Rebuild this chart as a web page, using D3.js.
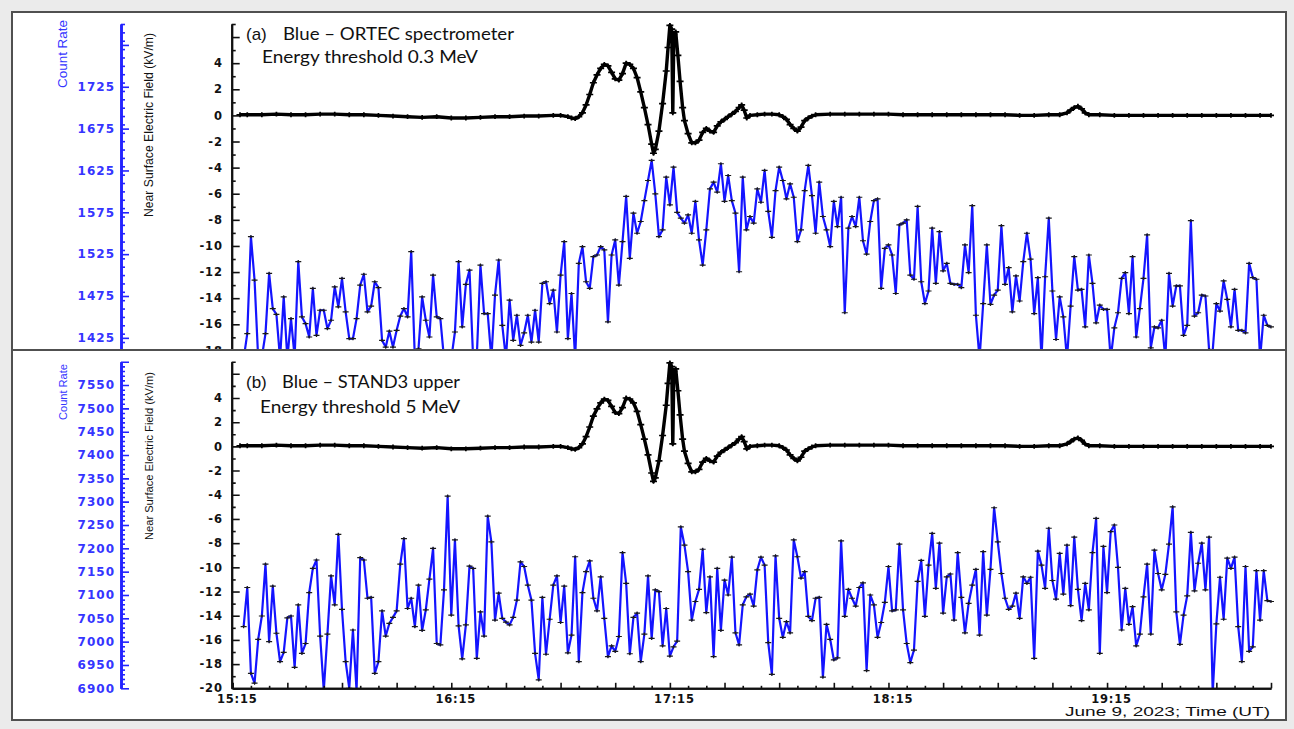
<!DOCTYPE html>
<html>
<head>
<meta charset="utf-8">
<script src="https://cdn.jsdelivr.net/npm/d3@7"></script>
<style>
  html, body { margin: 0; padding: 0; background: #ebebeb; }
  svg { display: block; }
</style>
</head>
<body>
<svg id="chart" width="1294" height="729"></svg>
<script>
// ---------------- data ----------------
// Near-surface electric field (kV/m); time in minutes after 15:15 UT
const fieldMinutes = [
  2, 4, 8, 12, 16, 20, 24, 28, 32, 36, 40, 44, 48, 52, 56, 60, 64, 68, 72, 76, 80, 84, 88, 90,
  92, 93, 94, 95, 96, 97, 98, 99, 100, 101, 102, 103, 104, 105, 106, 107, 108, 109, 110, 111,
  112, 113, 114, 115, 115.5, 116, 117, 118, 119, 119.5, 120, 120.5, 120.8, 121.1, 121.6, 122.2,
  122.8, 123.5, 124, 125, 126, 127, 128, 129, 130, 131, 132, 133, 134, 135, 136, 137, 138, 139,
  139.7, 140.4, 141.1, 142, 144, 146, 148, 150, 151, 152, 153, 154, 155, 156, 157, 158, 159, 160,
  164, 168, 172, 176, 180, 184, 188, 192, 196, 200, 204, 208, 212, 216, 220, 224, 227, 229, 230,
  231, 232, 233, 234, 235, 238, 242, 246, 250, 254, 258, 262, 266, 270, 274, 278, 282, 285
];
const fieldKV = [
  0.05, 0.05, 0.05, 0.1, 0.05, 0.05, 0.1, 0.1, 0.05, 0.05, 0.0, -0.05, -0.1, -0.15, -0.1, -0.2, -0.2, -0.15, -0.1, -0.1, -0.05, -0.05, 0.0, 0.0,
  -0.1, -0.2, -0.25, -0.1, 0.2, 0.8, 1.6, 2.5, 3.1, 3.6, 3.9, 3.8, 3.3, 2.8, 2.7, 3.2, 4.0, 3.9, 3.6, 2.9,
  1.8, 0.6, -0.7, -2.2, -2.9, -2.6, -1.2, 0.9, 3.4, 5.2, 6.9, 6.6, 0.2, 6.2, 6.4, 4.6,
  2.6, 0.6, -0.4, -1.4, -2.1, -2.1, -1.9, -1.3, -1.0, -1.2, -1.3, -0.8, -0.5, -0.3, -0.1, 0.1, 0.3, 0.6,
  0.8, 0.4, -0.2, 0.0, 0.05, 0.1, 0.1, 0.05, -0.1, -0.3, -0.7, -1.0, -1.2, -0.9, -0.4, -0.2, -0.05, 0.05,
  0.1, 0.1, 0.1, 0.1, 0.1, 0.05, 0.05, 0.05, 0.05, 0.05, 0.05, 0.05, 0.05, 0.0, 0.0, 0.05, 0.05, 0.2, 0.4,
  0.6, 0.7, 0.5, 0.2, 0.05, 0.05, 0.0, 0.0, 0.0, 0.0, 0.0, 0.0, 0.0, 0.0, 0.0, 0.0, 0.0, 0.0
];

// Count rates, one sample per minute from 15:18 to 20:00 UT
const countMinutes = d3.range(3, 286);
const countORTEC = [
  1400, 1430, 1546, 1494, 1400, 1402, 1430,                        // 15:18
  1502, 1460, 1453, 1400, 1474, 1400, 1448, 1402, 1516, 1450,      // 15:25
  1442, 1426, 1484, 1428, 1458, 1458, 1436, 1446, 1486, 1462,
  1496, 1456, 1424, 1424, 1448, 1488, 1501, 1456, 1463, 1492,
  1485, 1422, 1414, 1433, 1414, 1434, 1451, 1460, 1450, 1528,
  1400, 1412, 1474, 1446, 1426, 1500, 1450, 1448, 1400, 1403,      // 16:05
  1400, 1432, 1516, 1438, 1489, 1506, 1400, 1402, 1512, 1454,
  1454, 1400, 1476, 1518, 1440, 1400, 1470, 1422, 1452, 1416,
  1431, 1452, 1420, 1458, 1420, 1490, 1492, 1466, 1482, 1432,
  1500, 1540, 1424, 1478, 1400, 1514, 1534, 1492, 1484, 1522,
  1524, 1534, 1530, 1444, 1524, 1542, 1488, 1540, 1594, 1520,      // 16:55
  1574, 1550, 1564, 1589, 1613, 1637, 1597, 1546, 1554, 1617,
  1584, 1629, 1575, 1568, 1562, 1572, 1550, 1588, 1542, 1512,
  1554, 1603, 1611, 1599, 1633, 1588, 1619, 1589, 1574, 1504,
  1617, 1554, 1570, 1562, 1603, 1587, 1625, 1576, 1545, 1601,
  1629, 1613, 1591, 1609, 1593, 1540, 1554, 1601, 1631, 1595,      // 17:45
  1550, 1611, 1570, 1554, 1534, 1588, 1558, 1593, 1455, 1556,
  1570, 1558, 1593, 1541, 1525, 1564, 1589, 1591, 1484, 1532,
  1536, 1524, 1478, 1560, 1562, 1566, 1500, 1495, 1582, 1492,
  1466, 1481, 1556, 1490, 1552, 1505, 1514, 1490, 1489, 1489,
  1485, 1536, 1503, 1583, 1452, 1400, 1466, 1536, 1465, 1476,      // 18:35
  1482, 1559, 1489, 1509, 1456, 1499, 1469, 1516, 1550, 1519,
  1454, 1497, 1400, 1498, 1568, 1481, 1423, 1474, 1450, 1400,
  1463, 1522, 1482, 1483, 1438, 1524, 1490, 1443, 1464, 1459,
  1459, 1400, 1437, 1455, 1496, 1503, 1454, 1522, 1426, 1460,
  1496, 1548, 1413, 1438, 1437, 1446, 1400, 1502, 1463, 1487,      // 19:25
  1487, 1428, 1440, 1565, 1451, 1455, 1476, 1475, 1411, 1410,
  1466, 1457, 1493, 1471, 1438, 1483, 1434, 1434, 1431, 1514,
  1497, 1495, 1400, 1452, 1440, 1438                               // 19:55
];
const countSTAND3 = [
  7032, 7116, 6932, 6911, 7005, 7055, 7166,                        // 15:18
  7000, 7119, 7018, 6957, 6977, 7051, 7055, 6945, 7079, 6975,      // 15:25
  6996, 7105, 7157, 7175, 7012, 6895, 7016, 7141, 7079, 7230,
  7069, 6957, 6900, 7025, 6895, 7180, 7175, 7093, 7095, 6932,
  6957, 7066, 7012, 7039, 7052, 7066, 7166, 7221, 7071, 7093,
  7032, 7121, 7024, 7068, 7134, 7200, 6996, 6993, 7111, 7312,      // 16:05
  7057, 7218, 7034, 6963, 7036, 7162, 7157, 6964, 7064, 7012,
  7269, 7214, 7046, 7104, 7050, 7042, 7036, 7052, 7089, 7171,
  7161, 7121, 7089, 6975, 6918, 7095, 6973, 7048, 7121, 7141,
  7041, 7119, 6976, 7014, 7182, 6957, 7105, 7150, 7173, 7093,
  7066, 7139, 7050, 6968, 6991, 6979, 7011, 7191, 7125, 6974,      // 16:55
  7052, 7061, 6957, 7016, 7141, 7007, 7111, 7107, 6991, 7071,
  6969, 6989, 7001, 7246, 7207, 7150, 7046, 7086, 7112, 7198,
  7062, 7139, 6968, 7157, 7024, 7132, 7100, 7181, 7019, 6993,
  7079, 7096, 7102, 7076, 7154, 7181, 7164, 6998, 6930, 7184,
  7050, 7009, 7043, 7019, 7218, 7182, 7136, 7150, 7054, 7045,      // 17:45
  7093, 7095, 6924, 7037, 7005, 6961, 6965, 7216, 7054, 7112,
  7093, 7076, 7116, 7126, 6938, 7100, 7079, 7009, 7041, 7084,
  7161, 7066, 7068, 7209, 7068, 6996, 6955, 6982, 7129, 7174,
  7054, 7164, 7232, 7114, 7211, 7061, 7139, 7145, 7046, 7191,
  7095, 7019, 7082, 7121, 7155, 7014, 7193, 7057, 7155, 7287,      // 18:35
  7214, 7146, 7093, 7069, 7076, 7104, 7050, 7139, 7125, 7138,
  6964, 7194, 7164, 7114, 7243, 7131, 7091, 7189, 7102, 7207,
  7077, 7224, 7112, 7045, 7125, 7068, 7191, 7264, 6975, 7204,
  7105, 7236, 7250, 7159, 7025, 7114, 7037, 7075, 6991, 7016,
  7096, 7166, 7016, 7196, 7146, 7111, 7144, 7209, 7289, 7064,      // 19:25
  6994, 7057, 7098, 7234, 7109, 7168, 7211, 7111, 7224, 6890,
  7038, 7138, 7048, 7179, 7157, 7181, 7032, 6957, 7161, 6979,
  6989, 7152, 7046, 7152, 7088, 7086                               // 19:55
];

// Axis extents and label text
const timeStart = Date.UTC(2023, 5, 9, 15, 15);
const timeEnd = Date.UTC(2023, 5, 9, 20, 0);
const hourLabels = ["15:15", "16:15", "17:15", "18:15", "19:15"];
const fieldDomainA = [-18, 7];
const fieldDomainB = [-20, 7];
const countDomainA = [1410, 1800];
const countDomainB = [6900, 7600];
const countLabelsA = [1425, 1475, 1525, 1575, 1625, 1675, 1725];
const countLabelsB = [6900, 6950, 7000, 7050, 7100, 7150, 7200, 7250, 7300, 7350, 7400, 7450, 7500, 7550];
const panels = [
  { tag: "(a)", title: "Blue \u2013 ORTEC spectrometer", sub: "Energy threshold 0.3 MeV",
    counts: countORTEC, fieldDomain: fieldDomainA, countDomain: countDomainA, countLabels: countLabelsA },
  { tag: "(b)", title: "Blue \u2013 STAND3 upper", sub: "Energy threshold 5 MeV",
    counts: countSTAND3, fieldDomain: fieldDomainB, countDomain: countDomainB, countLabels: countLabelsB }
];

// ---------------- layout ----------------
const svg = d3.select("#chart");
const frame = { x0: 12, y0: 12, x1: 1286, y1: 720, split: 350 };
const plotX0 = 232.7, plotX1 = 1271;
const countAxisX = 121;
const panelBoxes = [
  { top: 24, bottom: 350.4, clipTop: 14, clipBottom: 349, axisClipBottom: 349 },
  { top: 361.7, bottom: 688.3, clipTop: 351.5, clipBottom: 689, axisClipBottom: 706 }
];
const panelText = [
  { tagY: 40, subY: 63, titleX: 283, subX: 262, titleW: 231, subW: 216,
    countTitleY: 54, countTitleLen: 68, countTitleSize: 13.4,
    fieldTitleY: 125, fieldTitleLen: 184, fieldTitleSize: 12.2 },
  { tagY: 388, subY: 413, titleX: 282, subX: 260, titleW: 178, subW: 200,
    countTitleY: 392, countTitleLen: 56, countTitleSize: 11.1,
    fieldTitleY: 456, fieldTitleLen: 168, fieldTitleSize: 11.1 }
];

const BLUE = "#1414ff";
const AXIS_BLUE = "#2323ff";
const LABEL_BLUE = "#3535ff";
const tickFont = "'DejaVu Sans', sans-serif";

svg.append("rect")
  .attr("x", frame.x0).attr("y", frame.y0)
  .attr("width", frame.x1 - frame.x0).attr("height", frame.y1 - frame.y0)
  .attr("fill", "#ffffff").attr("stroke", "#505050").attr("stroke-width", 2);

const x = d3.scaleUtc().domain([new Date(timeStart), new Date(timeEnd)]).range([plotX0, plotX1]);
const at = m => new Date(timeStart + m * 60000);

const fieldPoints = fieldMinutes.map((m, i) => ({ t: at(m), v: fieldKV[i] }));
const crossPath = "M-3,0H3M0,-1.6V1.6";

function styleAxis(g, color, width) {
  g.select(".domain").attr("stroke", color).attr("stroke-width", width);
  g.selectAll(".tick line").attr("stroke", color).attr("stroke-width", 1.6);
  g.attr("font-family", null).attr("font-size", null);
}

panels.forEach((p, i) => {
  const box = panelBoxes[i];
  const txt = panelText[i];
  const yField = d3.scaleLinear().domain(p.fieldDomain).range([box.bottom, box.top]);
  const yCount = d3.scaleLinear().domain(p.countDomain).range([box.bottom, box.top]);

  const clipId = "clip" + i;
  svg.append("clipPath").attr("id", clipId)
    .append("rect").attr("x", 0).attr("y", box.clipTop)
    .attr("width", 1294).attr("height", box.axisClipBottom - box.clipTop);
  const plotClipId = "plotclip" + i;
  svg.append("clipPath").attr("id", plotClipId)
    .append("rect").attr("x", plotX0).attr("y", box.clipTop)
    .attr("width", plotX1 - plotX0 + 3).attr("height", box.clipBottom - box.clipTop);

  const g = svg.append("g").attr("clip-path", `url(#${clipId})`);

  // --- count rate axis (blue, outer left) ---
  const [c0, c1] = p.countDomain;
  const countMinor = d3.range(c0, c1 + 1, 10).filter(v => (v - 1425) % 10 === 0 || (v - 6900) % 10 === 0);
  const countMajor = d3.range(p.countLabels[0], c1 + 1, 50);
  g.append("g").attr("transform", `translate(${countAxisX},0)`)
    .call(d3.axisLeft(yCount).tickValues(countMinor.filter(v => !countMajor.includes(v)))
      .tickSize(-4).tickSizeOuter(0).tickFormat(""))
    .call(a => styleAxis(a, AXIS_BLUE, 2.6));
  g.append("g").attr("transform", `translate(${countAxisX},0)`)
    .call(d3.axisLeft(yCount).tickValues(countMajor).tickSize(-8).tickSizeOuter(0).tickPadding(6)
      .tickFormat(v => p.countLabels.includes(v) ? String(v) : ""))
    .call(a => styleAxis(a, AXIS_BLUE, 2.6))
    .call(a => a.selectAll("text")
      .attr("fill", LABEL_BLUE).attr("font-family", tickFont).attr("font-weight", "bold")
      .attr("font-size", 12).attr("letter-spacing", 1));

  // --- electric field axis (black, inner left) ---
  const [f0, f1] = p.fieldDomain;
  const fieldAll = d3.range(f0, f1 + 1, 1);
  g.append("g").attr("transform", `translate(${plotX0 - 1},0)`)
    .call(d3.axisLeft(yField).tickValues(fieldAll.filter(v => v % 2 !== 0))
      .tickSize(-4).tickSizeOuter(0).tickFormat(""))
    .call(a => styleAxis(a, "#111", 2));
  g.append("g").attr("transform", `translate(${plotX0 - 1},0)`)
    .call(d3.axisLeft(yField).tickValues(fieldAll.filter(v => v % 2 === 0))
      .tickSize(-8).tickSizeOuter(0).tickPadding(9)
      .tickFormat(v => v <= 4 ? String(v) : ""))
    .call(a => styleAxis(a, "#111", 2))
    .call(a => a.selectAll("text")
      .attr("fill", "#111").attr("font-family", tickFont).attr("font-weight", "bold")
      .attr("font-size", 11.5).attr("letter-spacing", 0.8));

  // --- axis titles ---
  g.append("text")
    .attr("transform", `translate(67,${txt.countTitleY}) rotate(-90)`)
    .attr("text-anchor", "middle")
    .attr("font-family", "'Liberation Sans', Arial, sans-serif").attr("font-size", txt.countTitleSize)
    .attr("fill", LABEL_BLUE)
    .attr("textLength", txt.countTitleLen).attr("lengthAdjust", "spacingAndGlyphs")
    .text("Count Rate");
  g.append("text")
    .attr("transform", `translate(152.5,${txt.fieldTitleY}) rotate(-90)`)
    .attr("text-anchor", "middle")
    .attr("font-family", "'Liberation Sans', Arial, sans-serif").attr("font-size", txt.fieldTitleSize)
    .attr("fill", "#111")
    .attr("textLength", txt.fieldTitleLen).attr("lengthAdjust", "spacingAndGlyphs")
    .text("Near Surface Electric Field (kV/m)");

  // --- series ---
  const plot = svg.append("g").attr("clip-path", `url(#${plotClipId})`);

  const fieldLine = d3.line().x(d => x(d.t)).y(d => yField(d.v)).curve(d3.curveLinear);
  plot.append("path").datum(fieldPoints)
    .attr("d", fieldLine).attr("fill", "none")
    .attr("stroke", "#000").attr("stroke-width", 3.4).attr("stroke-linejoin", "round");
  plot.append("g").selectAll("path").data(fieldPoints).join("path")
    .attr("transform", d => `translate(${x(d.t)},${yField(d.v)})`)
    .attr("d", "M-3.5,0H3.5M0,-2.4V2.4").attr("stroke", "#000").attr("stroke-width", 1.7);

  const countPoints = countMinutes.map((m, k) => ({ t: at(m), v: p.counts[k] }));
  const countLine = d3.line().x(d => x(d.t)).y(d => yCount(d.v));
  plot.append("path").datum(countPoints)
    .attr("d", countLine).attr("fill", "none")
    .attr("stroke", BLUE).attr("stroke-width", 2.2).attr("stroke-linejoin", "round");
  plot.append("g").selectAll("path").data(countPoints).join("path")
    .attr("transform", d => `translate(${x(d.t)},${yCount(d.v)})`)
    .attr("d", crossPath).attr("stroke", "#1a1a1a").attr("stroke-width", 1.2);

  // --- panel annotation ---
  const note = svg.append("g").attr("fill", "#111");
  note.append("text").attr("x", 246).attr("y", txt.tagY)
    .attr("font-family", "'Liberation Sans', Arial, sans-serif").attr("font-size", 17)
    .text(p.tag);
  note.append("text").attr("x", txt.titleX).attr("y", txt.tagY)
    .attr("font-family", "Lato, 'Open Sans', sans-serif").attr("font-size", 17.5)
    .attr("textLength", txt.titleW).attr("lengthAdjust", "spacingAndGlyphs")
    .text(p.title);
  note.append("text").attr("x", txt.subX).attr("y", txt.subY)
    .attr("font-family", "Lato, 'Open Sans', sans-serif").attr("font-size", 17.5)
    .attr("textLength", txt.subW).attr("lengthAdjust", "spacingAndGlyphs")
    .text(p.sub);
});

// --- time axis under the lower panel ---
const xAxisY = panelBoxes[1].bottom;
const minorTimes = x.ticks(d3.utcMinute.every(5)).filter(d => d.getUTCMinutes() % 15 !== 0);
const majorTimes = x.ticks(d3.utcMinute.every(15));
svg.append("g").attr("transform", `translate(0,${xAxisY})`)
  .call(d3.axisBottom(x).tickValues(minorTimes).tickSize(-2.5).tickSizeOuter(0).tickFormat(""))
  .call(a => styleAxis(a, "#111", 2));
svg.append("g").attr("transform", `translate(0,${xAxisY})`)
  .call(d3.axisBottom(x).tickValues(majorTimes).tickSize(-5.5).tickSizeOuter(0).tickPadding(7)
    .tickFormat(d => {
      const s = d3.utcFormat("%H:%M")(d);
      return hourLabels.includes(s) ? s : "";
    }))
  .call(a => styleAxis(a, "#111", 2))
  .call(a => a.selectAll("text")
    .attr("fill", "#111").attr("font-family", tickFont).attr("font-weight", "bold")
    .attr("font-size", 11.5).attr("letter-spacing", 0.8).attr("dx", 4));

svg.append("text")
  .attr("x", 1270).attr("y", 716).attr("text-anchor", "end")
  .attr("font-family", "'Liberation Sans', Arial, sans-serif").attr("font-size", 13)
  .attr("fill", "#111")
  .attr("textLength", 205).attr("lengthAdjust", "spacingAndGlyphs")
  .text("June 9, 2023; Time (UT)");

// panel divider
svg.append("line")
  .attr("x1", frame.x0).attr("x2", frame.x1)
  .attr("y1", frame.split).attr("y2", frame.split)
  .attr("stroke", "#505050").attr("stroke-width", 2);
</script>
</body>
</html>
